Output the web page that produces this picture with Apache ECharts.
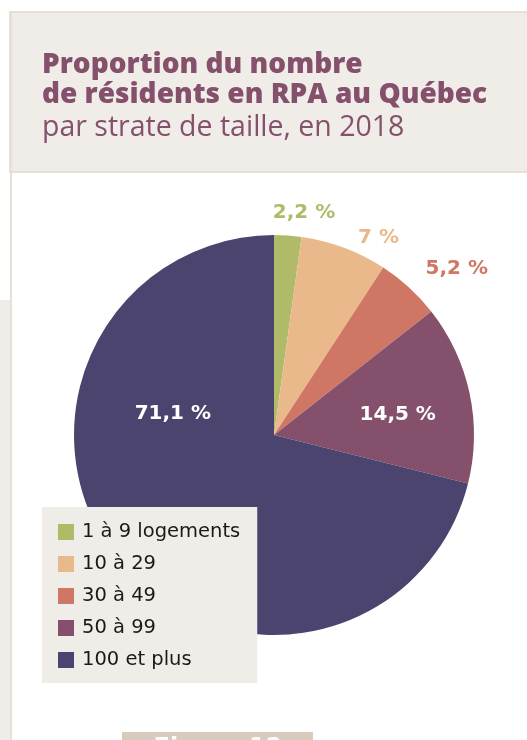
<!DOCTYPE html>
<html>
<head>
<meta charset="utf-8">
<script src="https://cdn.jsdelivr.net/npm/echarts@6/dist/echarts.min.js"></script>
<style>
  html, body { margin: 0; padding: 0; background: #fff; }
  #container { width: 527px; height: 740px; }
</style>
</head>
<body>
<div id="container"></div>
<script>
var dom = document.getElementById("container");
var myChart = echarts.init(dom, null, { renderer: "canvas" });
var option;

// data
const categories = ["1 à 9 logements", "10 à 29", "30 à 49", "50 à 99", "100 et plus"];
const shares = [2.2, 7, 5.2, 14.5, 71.1];
const colors = ["#b1ba68", "#eab98b", "#cf7665", "#85506c", "#4b446e"];

const beige = "#f0ede8";
const titleColor = "#85506c";

// small nudges for the label positions (dx, dy)
const labelNudge = [[-21, -9], [4, 3], [2, -8], [23, 1], [-20, -85]];
const insideIdx = [3, 4];

function fmt(v) {
  return String(v).replace(".", ",") + " %";
}

const pieData = categories.map(function (name, i) {
  const inside = insideIdx.indexOf(i) >= 0;
  return {
    name: name,
    value: shares[i],
    itemStyle: { color: colors[i] },
    label: inside
      ? { position: "inside", color: "#ffffff" }
      : { position: "outside", color: colors[i] },
  };
});

option = {
  backgroundColor: "#ffffff",
  animation: false,
  graphic: {
    elements: [
      // header band
      {
        type: "rect",
        shape: { x: 10, y: 12, width: 520, height: 160 },
        style: { fill: beige, stroke: "#e6e0d7", lineWidth: 2 },
        z: -10,
      },
      // left frame line
      {
        type: "rect",
        shape: { x: 10, y: 12, width: 2, height: 740 },
        style: { fill: "#e6e0d7" },
        z: -9,
      },
      // left outer strip
      {
        type: "rect",
        shape: { x: 0, y: 300, width: 10, height: 450 },
        style: { fill: beige },
        z: -10,
      },
      // figure tab at the bottom
      {
        type: "rect",
        shape: { x: 122, y: 732, width: 191, height: 20 },
        style: { fill: "#d6cbbd" },
        z: -5,
      },
      {
        type: "text",
        x: 218,
        y: 737,
        style: {
          text: "Figure 12",
          fill: "#ffffff",
          font: "bold 24px 'DejaVu Sans'",
          align: "center",
          verticalAlign: "top",
        },
        z: -4,
      },
    ],
  },
  title: {
    text: "Proportion du nombre\nde résidents en RPA au Québec",
    subtext: "par strate de taille, en 2018",
    left: 42,
    top: 50,
    padding: 0,
    itemGap: 3,
    textStyle: {
      fontFamily: "Open Sans",
      fontWeight: 800,
      fontSize: 28,
      lineHeight: 30,
      color: titleColor,
    },
    subtextStyle: {
      fontFamily: "Open Sans",
      fontWeight: "normal",
      fontSize: 28.5,
      lineHeight: 30,
      color: titleColor,
    },
  },
  legend: {
    orient: "vertical",
    left: 42,
    top: 507,
    backgroundColor: beige,
    padding: [15, 17, 13, 16],
    itemWidth: 16,
    itemHeight: 16,
    itemGap: 12,
    icon: "rect",
    selectedMode: false,
    textStyle: {
      fontFamily: "DejaVu Sans",
      fontSize: 19.5,
      lineHeight: 16,
      color: "#1a1a1a",
      padding: [0, 0, 0, 3],
    },
    data: categories,
  },
  series: [
    {
      type: "pie",
      center: [274, 435],
      radius: 200,
      startAngle: 90,
      clockwise: true,
      avoidLabelOverlap: false,
      label: {
        show: true,
        formatter: function (p) {
          return fmt(p.value);
        },
        fontFamily: "DejaVu Sans",
        fontWeight: "bold",
        fontSize: 20,
      },
      labelLine: { show: false, length: 14, length2: 0 },
      labelLayout: function (params) {
        const n = labelNudge[params.dataIndex];
        return { dx: n[0], dy: n[1] };
      },
      emphasis: { disabled: true },
      data: pieData,
    },
  ],
};

myChart.setOption(option);
window.addEventListener("resize", myChart.resize);
</script>
</body>
</html>
